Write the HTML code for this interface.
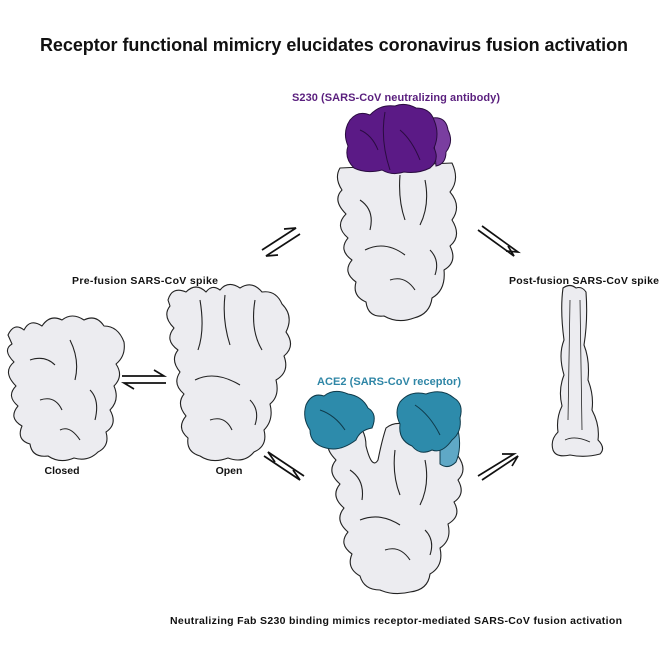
<!DOCTYPE html>
<html><head><meta charset="utf-8"><style>
html,body{margin:0;padding:0;background:#fff;}
svg{display:block;font-family:"Liberation Sans",Arial,sans-serif;font-weight:bold;}
</style></head><body>
<svg width="664" height="664" viewBox="0 0 664 664">
<text x="334" y="51" font-size="18" text-anchor="middle" fill="#111" textLength="588">Receptor functional mimicry elucidates coronavirus fusion activation</text>
<text x="396" y="101" font-size="11" text-anchor="middle" fill="#5a1f7e" textLength="208">S230 (SARS-CoV neutralizing antibody)</text>
<text x="145" y="284" font-size="10.5" text-anchor="middle" fill="#111" textLength="146">Pre-fusion SARS-CoV spike</text>
<text x="584" y="284" font-size="10.5" text-anchor="middle" fill="#111" textLength="150">Post-fusion SARS-CoV spike</text>
<text x="62" y="474" font-size="10.5" text-anchor="middle" fill="#111">Closed</text>
<text x="229" y="474" font-size="10.5" text-anchor="middle" fill="#111">Open</text>
<text x="389" y="385" font-size="11" text-anchor="middle" fill="#2f86a6" textLength="144">ACE2 (SARS-CoV receptor)</text>
<text x="396" y="624" font-size="10.5" text-anchor="middle" fill="#111" textLength="452">Neutralizing Fab S230 binding mimics receptor-mediated SARS-CoV fusion activation</text>

<g fill="#ececf0" stroke="#222" stroke-width="1.1" stroke-linejoin="round">
<!-- closed -->
<path d="M8,335 Q14,322 24,330 Q30,318 42,326 Q50,314 62,320 Q72,312 84,320 Q96,314 104,326 Q118,326 124,342 Q126,356 116,364 Q124,376 114,386 Q120,400 110,410 Q118,424 106,432 Q110,446 98,452 Q88,462 74,458 Q60,464 48,456 Q32,458 30,444 Q16,440 22,426 Q8,418 18,406 Q6,396 16,386 Q2,372 14,362 Q2,350 12,344 Z"/>
<path d="M30,360 Q45,355 55,365 M70,340 Q80,360 75,380 M40,400 Q55,395 62,410 M90,390 Q100,400 95,420 M60,430 Q70,425 80,440" fill="none"/>
<!-- open -->
<path d="M168,300 Q172,286 186,292 Q196,282 206,292 Q212,284 220,290 Q228,280 240,288 Q252,280 262,292 Q276,290 282,304 Q294,316 286,332 Q296,346 284,356 Q290,372 276,380 Q280,396 270,404 Q274,420 264,430 Q268,446 254,452 Q244,464 228,458 Q212,464 200,456 Q186,452 188,438 Q176,428 186,416 Q176,404 184,394 Q172,384 180,372 Q170,360 178,350 Q164,340 174,328 Q162,316 170,306 Z"/>
<path d="M200,300 Q205,330 198,350 M225,295 Q222,320 230,345 M255,300 Q250,330 262,350 M195,380 Q215,370 240,385 M210,420 Q225,415 232,430 M250,400 Q260,410 255,425" fill="none"/>
<!-- top spike body -->
<path d="M340,168 L452,163 Q460,180 450,192 Q462,206 452,220 Q462,236 450,246 Q458,262 444,270 Q446,290 432,298 Q430,314 414,318 Q398,324 384,316 Q368,318 366,302 Q352,296 356,282 Q342,272 352,260 Q338,250 348,238 Q334,226 346,214 Q332,200 342,190 Q334,178 340,168 Z"/>
<path d="M360,200 Q375,210 370,230 M400,175 Q398,200 405,220 M425,180 Q430,205 420,225 M365,250 Q385,240 405,255 M390,280 Q405,275 415,290 M430,250 Q440,260 435,275" fill="none"/>
<!-- bottom spike body -->
<path d="M328,422 Q340,414 352,420 Q366,428 366,446 Q372,470 378,460 Q382,440 386,428 Q396,420 410,426 L448,432 Q460,440 458,456 Q468,470 458,480 Q466,494 454,502 Q462,516 448,524 Q452,540 440,548 Q444,566 430,574 Q428,590 410,592 Q394,596 380,590 Q364,590 360,576 Q346,568 352,554 Q338,544 348,532 Q334,520 344,508 Q330,496 340,484 Q326,472 336,460 Q322,446 332,436 Z"/>
<path d="M350,470 Q365,480 362,500 M395,450 Q392,475 400,495 M425,460 Q430,485 420,505 M360,520 Q380,512 400,525 M385,550 Q400,545 410,560 M425,530 Q435,540 430,555" fill="none"/>
<!-- post fusion -->
<path d="M563,288 Q570,283 576,288 Q582,286 586,292 Q588,320 584,345 Q590,360 588,380 Q594,395 592,410 Q600,425 598,440 Q606,448 600,454 Q585,458 570,455 Q556,458 553,450 Q550,440 558,432 Q556,418 562,406 Q558,390 564,375 Q558,355 564,340 Q560,310 563,288 Z"/>
<path d="M570,300 L568,420 M580,300 L582,430 M565,440 Q575,435 590,442" fill="none" stroke-width="0.8"/>
</g>
<!-- purple cap -->
<g stroke="#2a0c40" stroke-width="1">
<path d="M432,118 Q446,116 448,130 Q454,142 446,152 Q446,164 436,166 Z" fill="#7a3ea0"/>
<path d="M350,120 Q358,110 370,115 Q380,104 395,106 Q405,102 416,108 Q430,108 434,120 Q440,134 434,148 Q440,160 430,168 Q418,174 404,172 Q392,176 382,170 Q366,174 354,168 Q344,158 348,146 Q342,132 350,120 Z" fill="#5b1a86"/>
<path d="M385,112 Q380,140 390,170 M360,130 Q372,135 378,150 M400,130 Q412,140 420,160" fill="none" stroke="#2a0c40"/>
</g>
<!-- ACE2 blobs -->
<g stroke="#0f3a4a" stroke-width="1">
<path d="M440,420 Q452,418 458,430 Q462,448 456,462 Q448,470 440,464 Z" fill="#5fa8c6"/>
<path d="M306,405 Q312,392 324,396 Q334,388 348,394 Q362,396 368,408 Q378,414 372,428 Q360,430 356,440 Q340,452 326,448 Q310,444 310,430 Q302,418 306,405 Z" fill="#2d8bab"/>
<path d="M400,402 Q410,390 426,394 Q442,388 454,398 Q464,404 460,418 Q462,432 452,440 Q442,454 432,450 Q420,456 412,446 Q398,440 400,424 Q394,412 400,402 Z" fill="#2d8bab"/>
<path d="M320,410 Q335,415 345,430 M415,405 Q430,415 440,435" fill="none"/>
</g>
<!-- equilibrium arrows -->
<g fill="none" stroke="#111" stroke-width="1.7">
<path d="M122,376 L164,376 L154,370"/><path d="M166,383 L124,383 L134,389"/>
<path d="M262,250 L296,228 L284,229"/><path d="M300,234 L266,256 L278,255"/>
<path d="M264,456 L300,480 L293,470"/><path d="M304,476 L268,452 L275,462"/>
<path d="M478,230 L514,256 L508,246"/><path d="M482,226 L518,252 L506,251"/>
<path d="M478,476 L514,454 L502,454"/><path d="M482,480 L518,456 L512,466"/>
</g>
</svg>
</body></html>
